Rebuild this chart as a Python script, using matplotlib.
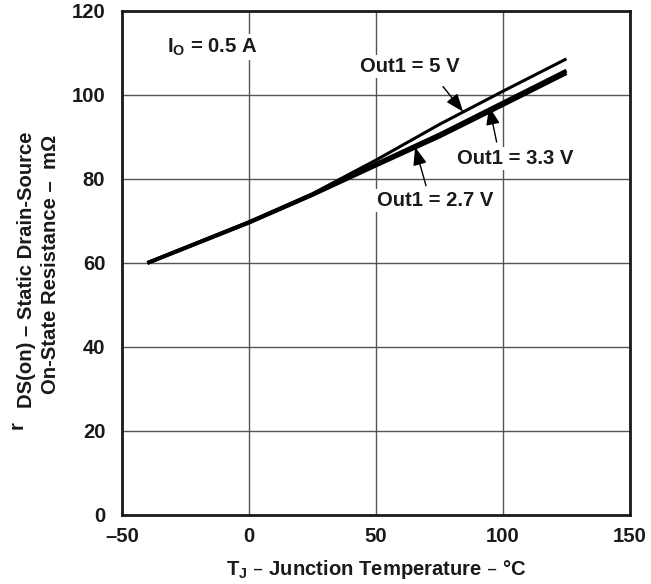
import matplotlib
matplotlib.use("Agg")
import matplotlib.pyplot as plt

plt.rcParams['font.family'] = ['Liberation Sans', 'DejaVu Sans']
plt.rcParams['font.weight'] = 'bold'
plt.rcParams['axes.labelweight'] = 'bold'
plt.rcParams['mathtext.default'] = 'regular'

# junction temperature, degC
temp = [-40, 0, 25, 50, 75, 100, 125]
# rDS(on) in mOhm for each Out1 voltage
r_5v = [60, 69.8, 76.5, 84.5, 93.0, 100.9, 108.6]
r_33v = [60, 69.7, 76.3, 83.6, 90.6, 98.2, 105.8]
r_27v = [60, 69.6, 76.2, 83.2, 90.1, 97.6, 105.2]

xticks = [-50, 0, 50, 100, 150]
yticks = [0, 20, 40, 60, 80, 100, 120]

fig = plt.figure(figsize=(6.51, 5.84), dpi=100)
ax = fig.add_axes([0.1874, 0.1182, 0.7803, 0.863])

ax.plot(temp, r_27v, color='black', lw=2.8, solid_capstyle='butt')
ax.plot(temp, r_33v, color='black', lw=2.8, solid_capstyle='butt')
ax.plot(temp, r_5v, color='black', lw=2.2, solid_capstyle='butt')

ax.set_xlim(-50, 150)
ax.set_ylim(0, 120)
ax.set_xticks(xticks)
ax.set_yticks(yticks)
ax.set_xticklabels(['\u201350', '0', '50', '100', '150'])
fs = 14.6
ax.tick_params(length=0, labelsize=fs, colors='#1a1a1a')
ax.tick_params(axis='y', pad=12)
ax.tick_params(axis='x', pad=9)
ax.grid(True, color='#555555', lw=1.0)
ax.set_axisbelow(True)
for s in ax.spines.values():
    s.set_linewidth(2.0)
    s.set_color('#1a1a1a')

box = dict(facecolor='white', edgecolor='none', pad=1.5)

ax.text(-32.3, 111.4, 'I$_O$ = 0.5 A', fontsize=fs, va='center',
        ha='left', color='#1a1a1a', bbox=box, zorder=3)

ax.text(63.4, 106.7, 'Out1 = 5 V', fontsize=fs, va='center', ha='center',
        color='#1a1a1a', bbox=box, zorder=3)
ax.text(104.7, 84.8, 'Out1 = 3.3 V', fontsize=fs, va='center', ha='center',
        color='#1a1a1a', bbox=box, zorder=3)
ax.text(73.5, 74.8, 'Out1 = 2.7 V', fontsize=fs, va='center', ha='center',
        color='#1a1a1a', bbox=box, zorder=3)

arrow = dict(arrowstyle='-|>,head_length=1.1,head_width=0.42', color='black',
             lw=1.0, shrinkA=0, shrinkB=0)
ax.annotate('', xy=(84.3, 96.0), xytext=(76.4, 102.0), arrowprops=arrow, zorder=4)
ax.annotate('', xy=(94.6, 97.2), xytext=(97.5, 88.8), arrowprops=arrow, zorder=4)
ax.annotate('', xy=(65.4, 87.6), xytext=(69.7, 78.4), arrowprops=arrow, zorder=4)

# axis labels
ax.set_xlabel('T$_J$ \u2013 Junction Temperature \u2013 \u00b0C',
              fontsize=fs, color='#1a1a1a', labelpad=8)
fig.text(0.026, 0.272, 'r', rotation=90, fontsize=fs, color='#1a1a1a',
         ha='center', va='center')
fig.text(0.040, 0.538, 'DS(on) \u2013 Static Drain-Source', rotation=90,
         fontsize=fs, color='#1a1a1a', ha='center', va='center')
fig.text(0.077, 0.548, 'On-State Resistance \u2013  m\u03a9', rotation=90,
         fontsize=fs, color='#1a1a1a', ha='center', va='center')

fig.savefig('out.png', dpi=100)
